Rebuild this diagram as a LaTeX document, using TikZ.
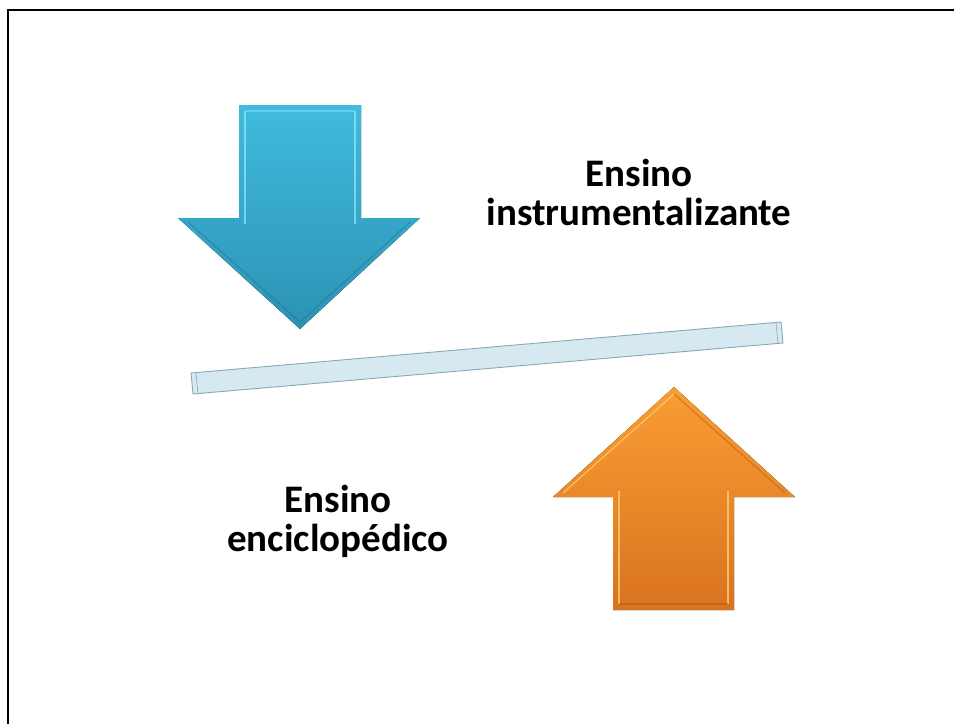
\documentclass[tikz,border=0pt]{standalone}
\usepackage{fontspec}
\setmainfont{Carlito}
\definecolor{bluetop}{HTML}{40BBDF}
\definecolor{bluebot}{HTML}{2C92B3}
\definecolor{bluebev}{HTML}{8FE6F5}
\definecolor{orangetop}{HTML}{FA9D33}
\definecolor{orangebot}{HTML}{D9731F}
\definecolor{orangebev}{HTML}{FFD27A}
\definecolor{barfill}{HTML}{D6E9F1}
\definecolor{barline}{HTML}{8AA7B5}
\tikzset{
  label text/.style={font=\bfseries\fontsize{39}{39}\selectfont, align=center, inner sep=0pt, text=black},
  bevel/.style={line width=1.2pt, opacity=0.75},
}
\begin{document}
\begin{tikzpicture}[x=1pt,y=-1pt]
\useasboundingbox (0,0) rectangle (954,724);
% frame (top and left edges)
\draw[line width=2.8pt] (8,724) -- (8,10) -- (954,10);
% blue down arrow
\fill[top color=bluetop, bottom color=bluebot]
  (239,105) -- (361,105) -- (361,218) -- (420,218) -- (300,329) -- (178,218) -- (239,218) -- cycle;
\draw[bevel, draw=bluebev] (245,111) -- (245,224);
\draw[bevel, draw=bluebev] (355,111) -- (355,224);
\draw[bevel, draw=bluebev!60!bluetop] (245,111) -- (355,111);
\draw[bevel, draw=bluebot!80!black, opacity=0.5] (188,222) -- (300,322) -- (410,222);
% connecting bar
\draw[fill=barfill, draw=barline, line width=0.9pt]
  (191,373) -- (781,322) -- (783,343) -- (193,394) -- cycle;
\draw[barline, line width=0.6pt] (196,373) -- (198,394);
\draw[barline, line width=0.6pt] (776,323) -- (778,343);
% orange up arrow
\fill[top color=orangetop, bottom color=orangebot]
  (674,387) -- (795,497) -- (734,497) -- (734,610) -- (613,610) -- (613,497) -- (553,497) -- cycle;
\draw[bevel, draw=orangebev] (563,493) -- (674,394);
\draw[bevel, draw=orangebev] (619,491) -- (619,604);
\draw[bevel, draw=orangebev] (728,491) -- (728,604);
\draw[bevel, draw=orangebot!80!black, opacity=0.5] (619,604) -- (728,604);
\draw[bevel, draw=orangebot!80!black, opacity=0.5] (674,394) -- (785,493);
% labels
\node[label text] (instr) at (639,192) {Ensino\\instrumentalizante};
\node[label text] (encic) at (338,521) {Ensino\\enciclopédico};
\end{tikzpicture}
\end{document}
